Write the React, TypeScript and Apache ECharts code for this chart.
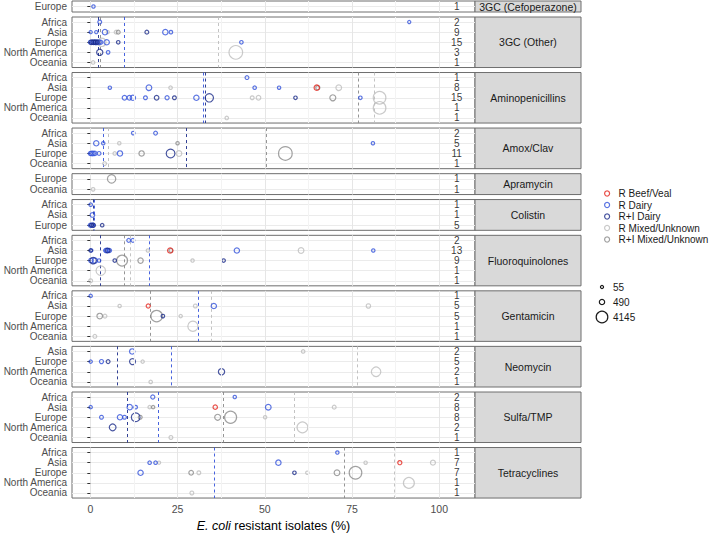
import { useEffect, useRef } from 'react';
import * as echarts from 'echarts';

// ---------- data ----------
const GROUP_NAMES = ['R Beef/Veal', 'R Dairy', 'R+I Dairy', 'R Mixed/Unknown', 'R+I Mixed/Unknown'];
const GROUP_KEYS = ['BV', 'RD', 'RID', 'RM', 'RIM'];
const GROUP_COLORS = ['#E3241B', '#3352DB', '#1C2C8A', '#BDBDBD', '#8A8A8A'];
const DRAW_ORDER = ['RM', 'RIM', 'RD', 'RID', 'BV'];
const X_TICKS = [0, 25, 50, 75, 100];
const X_MINOR = [12.5, 37.5, 62.5, 87.5];
const SIZE_BREAKS = [55, 490, 4145];
const ALL_REGIONS = ['Africa', 'Asia', 'Europe', 'North America', 'Oceania'];

type Pt = [string, number, string, number]; // region, % resistant, group, isolates

const cefoperazonePts: Pt[] = [['Europe', 0.9, 'RD', 80]];
const cefoperazoneN = [1];
const cefoperazoneLines: [string, number][] = [];

const gc3OtherPts: Pt[] = [
  ['Africa', 2.7, 'RD', 150], ['Africa', 91.4, 'RD', 60],
  ['Asia', 0.1, 'RD', 60], ['Asia', 1.7, 'RD', 60], ['Asia', 4.2, 'RD', 500], ['Asia', 5.0, 'RM', 60],
  ['Asia', 7.4, 'RM', 150], ['Asia', 8.0, 'RIM', 150], ['Asia', 16.2, 'RID', 150], ['Asia', 21.5, 'RD', 500], ['Asia', 23.1, 'RD', 100],
  ['Europe', 0.0, 'RD', 150], ['Europe', 0.3, 'RID', 300], ['Europe', 0.6, 'RD', 200], ['Europe', 0.9, 'RID', 300],
  ['Europe', 1.2, 'RD', 150], ['Europe', 1.6, 'RD', 400], ['Europe', 2.0, 'RID', 200], ['Europe', 2.2, 'RM', 400],
  ['Europe', 2.5, 'RD', 300], ['Europe', 3.0, 'RD', 200], ['Europe', 3.3, 'RM', 1800], ['Europe', 4.7, 'RD', 500],
  ['Europe', 8.0, 'RID', 100], ['Europe', 43.3, 'RD', 100], ['Europe', 1.4, 'RID', 250],
  ['North America', 2.7, 'RID', 800], ['North America', 5.1, 'RD', 100], ['North America', 41.7, 'RM', 6000],
  ['Oceania', 0.8, 'RM', 100],
];
const gc3OtherN = [2, 9, 15, 3, 1];
const gc3OtherLines: [string, number][] = [['RID', 2.3], ['RIM', 2.9], ['RD', 9.8], ['RM', 36.6]];

const aminoPts: Pt[] = [
  ['Africa', 44.9, 'RD', 150],
  ['Asia', 5.6, 'RD', 80], ['Asia', 16.8, 'RD', 600], ['Asia', 23.0, 'RM', 100], ['Asia', 47.1, 'RD', 100],
  ['Asia', 54.1, 'RD', 80], ['Asia', 64.9, 'BV', 500], ['Asia', 65.2, 'RIM', 200], ['Asia', 71.2, 'RM', 600],
  ['Europe', 9.8, 'RD', 300], ['Europe', 11.2, 'RD', 300], ['Europe', 12.2, 'RD', 500], ['Europe', 15.8, 'RD', 150],
  ['Europe', 19.0, 'RID', 300], ['Europe', 22.0, 'RD', 200], ['Europe', 24.1, 'RID', 150], ['Europe', 30.4, 'RD', 500],
  ['Europe', 34.1, 'RID', 1800], ['Europe', 46.4, 'RM', 150], ['Europe', 48.2, 'RM', 300], ['Europe', 58.8, 'RID', 100],
  ['Europe', 69.5, 'RIM', 700], ['Europe', 77.4, 'RD', 100], ['Europe', 82.9, 'RM', 5000],
  ['North America', 82.9, 'RM', 5000],
  ['Oceania', 39.1, 'RM', 100],
];
const aminoN = [1, 8, 15, 1, 1];
const aminoLines: [string, number][] = [['RD', 32.4], ['RID', 33.0], ['RIM', 76.9], ['RM', 81.5]];

const amoxPts: Pt[] = [
  ['Africa', 12.3, 'RD', 100], ['Africa', 18.7, 'RD', 150],
  ['Asia', 1.7, 'RD', 500], ['Asia', 3.7, 'RD', 80], ['Asia', 8.3, 'RM', 80], ['Asia', 25.0, 'RIM', 80], ['Asia', 81.0, 'RD', 80],
  ['Europe', 0.0, 'RD', 200], ['Europe', 0.4, 'RD', 300], ['Europe', 0.8, 'RD', 300], ['Europe', 1.3, 'RD', 250],
  ['Europe', 2.5, 'RD', 150], ['Europe', 7.0, 'RM', 100], ['Europe', 8.5, 'RD', 500], ['Europe', 14.7, 'RIM', 500],
  ['Europe', 23.0, 'RID', 2000], ['Europe', 25.4, 'RM', 600], ['Europe', 55.9, 'RIM', 6000],
  ['Oceania', 4.1, 'RM', 150],
];
const amoxN = [2, 5, 11, 1];
const amoxLines: [string, number][] = [['RD', 3.8], ['RM', 5.1], ['RID', 27.5], ['RIM', 50.4]];

const apraPts: Pt[] = [['Europe', 6.1, 'RIM', 1800], ['Oceania', 0.8, 'RM', 100]];
const apraN = [1, 1];
const apraLines: [string, number][] = [];

const colistinPts: Pt[] = [
  ['Africa', 0.1, 'RD', 100],
  ['Asia', 0.6, 'RD', 300],
  ['Europe', 0.0, 'RD', 200], ['Europe', 0.3, 'RID', 150], ['Europe', 0.6, 'RD', 300], ['Europe', 0.9, 'RID', 200], ['Europe', 3.4, 'RID', 100],
];
const colistinN = [1, 1, 5];
const colistinLines: [string, number][] = [['RID', 0.8], ['RD', 1.1]];

const fluoroPts: Pt[] = [
  ['Africa', 11.0, 'RD', 150], ['Africa', 12.2, 'RD', 150],
  ['Asia', 0.1, 'RID', 100], ['Asia', 0.3, 'RD', 60], ['Asia', 4.4, 'RD', 200], ['Asia', 4.7, 'RD', 300], ['Asia', 5.0, 'RID', 300],
  ['Asia', 5.2, 'RD', 100], ['Asia', 5.5, 'RD', 200], ['Asia', 16.5, 'RM', 80], ['Asia', 22.9, 'BV', 500], ['Asia', 23.1, 'RIM', 150],
  ['Asia', 42.0, 'RD', 500], ['Asia', 60.4, 'RM', 600], ['Asia', 81.1, 'RD', 80],
  ['Europe', 0.2, 'RD', 300], ['Europe', 0.8, 'RID', 900], ['Europe', 1.3, 'RD', 500], ['Europe', 2.5, 'RD', 100],
  ['Europe', 7.0, 'RID', 100], ['Europe', 9.1, 'RIM', 3500], ['Europe', 14.4, 'RIM', 500], ['Europe', 29.3, 'RM', 80], ['Europe', 38.2, 'RID', 100],
  ['North America', 3.0, 'RM', 2500],
  ['Oceania', 0.1, 'RM', 150],
];
const fluoroN = [2, 13, 9, 1, 1];
const fluoroLines: [string, number][] = [['RID', 2.8], ['RIM', 9.6], ['RM', 11.5], ['RD', 17.0]];

const gentaPts: Pt[] = [
  ['Africa', 0.1, 'RD', 80],
  ['Asia', 8.4, 'RM', 80], ['Asia', 16.6, 'BV', 200], ['Asia', 30.1, 'RM', 150], ['Asia', 35.4, 'RD', 500], ['Asia', 79.7, 'RM', 250],
  ['Europe', 2.7, 'RIM', 600], ['Europe', 4.2, 'RM', 150], ['Europe', 19.0, 'RIM', 4000], ['Europe', 20.8, 'RID', 100], ['Europe', 25.9, 'RM', 80],
  ['North America', 29.4, 'RM', 3000],
  ['Oceania', 1.3, 'RM', 150],
];
const gentaN = [1, 5, 5, 1, 1];
const gentaLines: [string, number][] = [['RIM', 17.3], ['RD', 30.8], ['RM', 34.7]];

const neoPts: Pt[] = [
  ['Asia', 12.0, 'RD', 500], ['Asia', 61.0, 'RM', 100],
  ['Europe', 0.1, 'RD', 80], ['Europe', 3.2, 'RD', 200], ['Europe', 5.1, 'RID', 150], ['Europe', 12.1, 'RID', 700], ['Europe', 15.0, 'RM', 80],
  ['North America', 37.6, 'RID', 800], ['North America', 81.9, 'RM', 2500],
  ['Oceania', 17.3, 'RM', 100],
];
const neoN = [2, 5, 2, 1];
const neoLines: [string, number][] = [['RID', 7.8], ['RD', 23.1], ['RM', 76.4]];

const sulfaPts: Pt[] = [
  ['Africa', 17.9, 'RD', 200], ['Africa', 41.4, 'RD', 80],
  ['Asia', 0.1, 'RD', 80], ['Asia', 11.3, 'RD', 500], ['Asia', 13.0, 'RD', 100], ['Asia', 17.0, 'RM', 80],
  ['Asia', 18.0, 'RIM', 80], ['Asia', 35.8, 'BV', 250], ['Asia', 51.0, 'RD', 600], ['Asia', 69.9, 'RM', 150],
  ['Europe', 3.2, 'RD', 150], ['Europe', 8.5, 'RD', 500], ['Europe', 9.8, 'RD', 150], ['Europe', 13.0, 'RID', 2000],
  ['Europe', 14.3, 'RIM', 150], ['Europe', 36.5, 'RIM', 700], ['Europe', 40.2, 'RIM', 4500], ['Europe', 50.1, 'RM', 80],
  ['North America', 6.4, 'RID', 1000], ['North America', 60.8, 'RM', 3500],
  ['Oceania', 23.1, 'RM', 150],
];
const sulfaN = [2, 8, 8, 2, 1];
const sulfaLines: [string, number][] = [['RID', 10.6], ['RD', 19.5], ['RIM', 38.1], ['RM', 58.5]];

const tetraPts: Pt[] = [
  ['Africa', 70.8, 'RD', 80],
  ['Asia', 17.0, 'RD', 100], ['Asia', 18.7, 'RD', 100], ['Asia', 19.7, 'RM', 60], ['Asia', 53.9, 'RD', 500],
  ['Asia', 78.9, 'RM', 80], ['Asia', 88.7, 'BV', 200], ['Asia', 98.2, 'RM', 400],
  ['Europe', 14.4, 'RD', 500], ['Europe', 28.9, 'RIM', 300], ['Europe', 31.1, 'RM', 150], ['Europe', 58.5, 'RID', 100],
  ['Europe', 62.2, 'RM', 80], ['Europe', 70.7, 'RIM', 600], ['Europe', 76.0, 'RIM', 5000],
  ['North America', 91.3, 'RM', 3500],
  ['Oceania', 29.1, 'RM', 150],
];
const tetraN = [1, 7, 7, 1, 1];
const tetraLines: [string, number][] = [['RD', 35.6], ['RIM', 72.8], ['RM', 87.1]];

const PANELS = [
  { name: '3GC (Cefoperazone)', regions: ['Europe'], counts: cefoperazoneN, pts: cefoperazonePts, lines: cefoperazoneLines },
  { name: '3GC (Other)', regions: ALL_REGIONS, counts: gc3OtherN, pts: gc3OtherPts, lines: gc3OtherLines },
  { name: 'Aminopenicillins', regions: ALL_REGIONS, counts: aminoN, pts: aminoPts, lines: aminoLines },
  { name: 'Amox/Clav', regions: ['Africa', 'Asia', 'Europe', 'Oceania'], counts: amoxN, pts: amoxPts, lines: amoxLines },
  { name: 'Apramycin', regions: ['Europe', 'Oceania'], counts: apraN, pts: apraPts, lines: apraLines },
  { name: 'Colistin', regions: ['Africa', 'Asia', 'Europe'], counts: colistinN, pts: colistinPts, lines: colistinLines },
  { name: 'Fluoroquinolones', regions: ALL_REGIONS, counts: fluoroN, pts: fluoroPts, lines: fluoroLines },
  { name: 'Gentamicin', regions: ALL_REGIONS, counts: gentaN, pts: gentaPts, lines: gentaLines },
  { name: 'Neomycin', regions: ['Asia', 'Europe', 'North America', 'Oceania'], counts: neoN, pts: neoPts, lines: neoLines },
  { name: 'Sulfa/TMP', regions: ALL_REGIONS, counts: sulfaN, pts: sulfaPts, lines: sulfaLines },
  { name: 'Tetracyclines', regions: ALL_REGIONS, counts: tetraN, pts: tetraPts, lines: tetraLines },
];

// ---------- layout ----------
const FONT = 'Liberation Sans, Arial, Helvetica, sans-serif';
const PANEL_LEFT = 72;
const PANEL_W = 403;
const STRIP_W = 106;
const Y0 = 1;
const PAD = 5.5;
const STEP = 9.88;
const GAP = 5;
const X_MIN = -5.25;
const X_MAX = 110.25;
const COUNT_X = 105;
const BORDER = '#6E6E6E';

const sizeOf = (n: number) => 2 + 0.15 * Math.sqrt(n);
const colorOf = (k: string) => GROUP_COLORS[GROUP_KEYS.indexOf(k)];
const nameOf = (k: string) => GROUP_NAMES[GROUP_KEYS.indexOf(k)];

function buildOption() {
  const grids: any[] = [];
  const xAxes: any[] = [];
  const yAxes: any[] = [];
  const series: any[] = [];
  const graphics: any[] = [];
  let y = Y0;
  const last = PANELS.length - 1;

  PANELS.forEach((p, i) => {
    const h = (p.regions.length - 1) * STEP + 2 * PAD;
    const top = y;
    y += h + GAP;

    grids.push({
      left: PANEL_LEFT, width: PANEL_W, top, height: h,
      show: true, borderColor: BORDER, borderWidth: 1, backgroundColor: '#FFFFFF',
    });
    xAxes.push({
      type: 'value', gridIndex: i, min: X_MIN, max: X_MAX,
      axisLine: { show: false },
      axisTick: { show: false, customValues: X_TICKS },
      axisLabel: {
        show: i === last, customValues: X_TICKS, fontSize: 10.5, color: '#4D4D4D', margin: 5, fontFamily: FONT,
      },
      splitLine: { show: true, lineStyle: { color: '#E6E6E6', width: 1 } },
      ...(i === last
        ? {
            name: '{i|E. coli} resistant isolates (%)',
            nameLocation: 'middle',
            nameGap: 21,
            nameTextStyle: {
              fontSize: 12.5, color: '#000', fontFamily: FONT,
              rich: { i: { fontStyle: 'italic', fontSize: 12.5, color: '#000', fontFamily: FONT } },
            },
          }
        : {}),
    });
    yAxes.push({
      type: 'category', gridIndex: i, data: p.regions, inverse: true,
      axisLine: { show: false },
      axisTick: { show: true, alignWithLabel: true, interval: 0, length: 3, lineStyle: { color: '#333333' } },
      axisLabel: { interval: 0, hideOverlap: false, fontSize: 10, color: '#4D4D4D', margin: 5, fontFamily: FONT },
      splitLine: { show: true, alignWithLabel: true, interval: 0, lineStyle: { color: '#EBEBEB', width: 1 } },
    });

    // minor vertical grid lines
    series.push({
      type: 'scatter', name: 'minor grid', xAxisIndex: i, yAxisIndex: i, z: 1, silent: true,
      data: [],
      markLine: {
        silent: true, symbol: 'none', label: { show: false },
        lineStyle: { type: 'solid', color: '#F3F3F3', width: 1 },
        emphasis: { disabled: true },
        data: X_MINOR.map((v) => ({ xAxis: v })),
      },
    });

    DRAW_ORDER.forEach((k) => {
      const pts = p.pts.filter((d) => d[2] === k);
      const lines = p.lines.filter((l) => l[0] === k);
      if (!pts.length && !lines.length) return;
      const c = colorOf(k);
      series.push({
        type: 'scatter', name: nameOf(k), xAxisIndex: i, yAxisIndex: i, z: 3,
        data: pts.map((d) => [d[1], d[0], d[3]]),
        symbol: 'circle',
        symbolSize: (v: any) => sizeOf(v[2]),
        itemStyle: { color: 'rgba(0,0,0,0)', borderColor: c, borderWidth: 1.2 },
        emphasis: { disabled: true },
        markLine: lines.length
          ? {
              silent: true, symbol: 'none', label: { show: false }, z: 2,
              lineStyle: { type: [3, 3], color: c, width: 1, opacity: 0.9 },
              emphasis: { disabled: true },
              data: lines.map((l) => ({ xAxis: l[1] })),
            }
          : undefined,
      });
    });

    series.push({
      type: 'scatter', name: 'count', xAxisIndex: i, yAxisIndex: i, z: 4, silent: true,
      data: p.regions.map((r, j) => [COUNT_X, r, p.counts[j]]),
      symbolSize: 1,
      itemStyle: { color: 'rgba(0,0,0,0)' },
      label: {
        show: true, position: 'inside', formatter: (q: any) => String(q.value[2]),
        fontSize: 10, color: '#000', fontFamily: FONT,
      },
    });

    graphics.push({
      type: 'rect', silent: true,
      shape: { x: PANEL_LEFT + PANEL_W, y: top, width: STRIP_W, height: h },
      style: { fill: '#D9D9D9', stroke: BORDER, lineWidth: 1 },
    });
    graphics.push({
      type: 'text', silent: true,
      style: {
        text: p.name, x: PANEL_LEFT + PANEL_W + STRIP_W / 2, y: top + h / 2,
        align: 'center', verticalAlign: 'middle', fontSize: 10.5, fill: '#1A1A1A', fontFamily: FONT,
      },
    });
  });

  // size legend
  const sizeY = [287, 302, 317];
  SIZE_BREAKS.forEach((n, j) => {
    graphics.push({
      type: 'circle', silent: true,
      shape: { cx: 602, cy: sizeY[j], r: sizeOf(n) / 2 },
      style: { fill: 'none', stroke: '#1A1A1A', lineWidth: 1.2 },
    });
    graphics.push({
      type: 'text', silent: true,
      style: { text: String(n), x: 613, y: sizeY[j], verticalAlign: 'middle', fontSize: 10, fill: '#1A1A1A', fontFamily: FONT },
    });
  });

  return {
    animation: false,
    backgroundColor: '#FFFFFF',
    textStyle: { fontFamily: FONT },
    grid: grids,
    xAxis: xAxes,
    yAxis: yAxes,
    legend: {
      orient: 'vertical', left: 599, top: 183,
      itemWidth: 5, itemHeight: 5, itemGap: 0.5, icon: 'circle',
      selectedMode: false,
      textStyle: { fontSize: 10, color: '#1A1A1A', fontFamily: FONT, lineHeight: 11, padding: [0, 0, 0, 4] },
      data: GROUP_NAMES.map((nm, j) => ({
        name: nm, icon: 'circle',
        itemStyle: { color: 'rgba(0,0,0,0)', borderColor: GROUP_COLORS[j], borderWidth: 1.2 },
      })),
    },
    series,
    graphic: { elements: graphics },
  };
}

export default function App() {
  const ref = useRef<HTMLDivElement>(null);
  useEffect(() => {
    document.body.style.margin = '0';
    if (!ref.current) return;
    const chart = echarts.init(ref.current, null, { renderer: 'svg' });
    chart.setOption(buildOption() as any);
    return () => chart.dispose();
  }, []);
  return <div ref={ref} style={{ width: 709, height: 534 }} />;
}
